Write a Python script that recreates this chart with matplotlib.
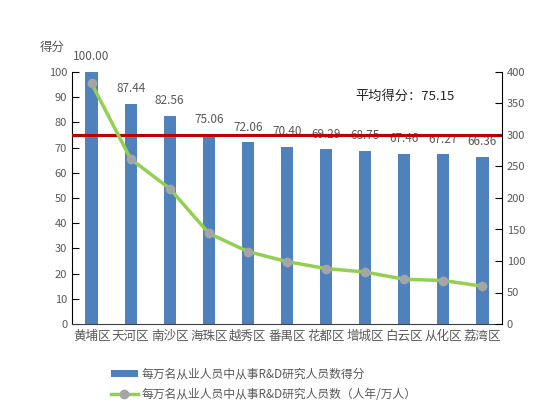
import matplotlib
matplotlib.use("Agg")
import matplotlib.pyplot as plt
from matplotlib.lines import Line2D
from matplotlib.patches import Patch

plt.rcParams['font.family'] = ['Noto Sans CJK SC', 'DejaVu Sans']

districts = ["黄埔区", "天河区", "南沙区", "海珠区", "越秀区", "番禺区", "花都区", "增城区", "白云区", "从化区", "荔湾区"]
scores = [100.00, 87.44, 82.56, 75.06, 72.06, 70.40, 69.29, 68.75, 67.46, 67.27, 66.36]
researchers = [382, 262, 215, 144, 115, 99, 88, 82.5, 71, 69, 60]
avg_score = 75.15
left_ticks = list(range(0, 101, 10))
right_ticks = list(range(0, 401, 50))
bar_label = "每万名从业人员中从事R&D研究人员数得分"
line_label = "每万名从业人员中从事R&D研究人员数（人年/万人）"

fig = plt.figure(figsize=(5.42, 4.19), dpi=100)
W, H = 542, 419
ax = fig.add_axes([72 / W, 1 - 324 / H, (502 - 72) / W, (324 - 72) / H])
x = list(range(len(districts)))
ax.bar(x, scores, width=0.31, color="#4F81BD", zorder=2)
ax.set_ylim(0, 100)
ax.set_xlim(-0.5, len(districts) - 0.5)
ax.set_yticks(left_ticks)
ax.set_xticks(x)
ax.set_xticklabels(districts)
tc = "#595959"
ax.tick_params(axis='y', direction='in', length=5, colors='black', labelcolor=tc, labelsize=8)
ax.tick_params(axis='x', length=0, labelcolor=tc, labelsize=9, pad=4)
ax.spines["top"].set_visible(False)
ax.spines["left"].set_color("black")
ax.spines["bottom"].set_color("#404040")
ax.spines["right"].set_visible(False)
for xi, v in zip(x, scores):
    ax.text(xi, v + 3.5, f"{v:.2f}", ha="center", va="bottom", fontsize=8.5, color=tc, zorder=1)
ax.axhline(avg_score, color="#C00000", lw=2.2, zorder=4)
ax.text(405 / W, 1 - 96 / H, f"平均得分：{avg_score:.2f}", transform=fig.transFigure,
        ha="center", va="center", fontsize=9.5, color="#262626")
ax.text(52 / W, 1 - 47 / H, "得分", transform=fig.transFigure, ha="center", va="center",
        fontsize=9, color=tc)

ax2 = ax.twinx()
ax2.plot(x, researchers, color="#92D050", lw=2.5, marker="o", markersize=6,
         markerfacecolor="#A5A5A5", markeredgecolor="#A5A5A5", zorder=5)
ax2.set_ylim(0, 400)
ax2.set_yticks(right_ticks)
ax2.tick_params(axis='y', direction='in', length=5, colors='black', labelcolor=tc, labelsize=8)
ax2.spines["top"].set_visible(False)
ax2.spines["left"].set_visible(False)
ax2.spines["bottom"].set_visible(False)
ax2.spines["right"].set_color("black")
ax2.set_zorder(ax.get_zorder() + 1)
ax2.patch.set_visible(False)

handles = [Patch(facecolor="#4F81BD", label=bar_label),
           Line2D([0], [0], color="#92D050", lw=2.5, marker="o", markersize=6,
                  markerfacecolor="#A5A5A5", markeredgecolor="#A5A5A5", label=line_label)]
fig.legend(handles=handles, loc="upper left", bbox_to_anchor=(100 / W, 1 - 357 / H),
           frameon=False, fontsize=8.5, labelcolor=tc, handlelength=2.3, handleheight=0.6,
           handletextpad=0.3, labelspacing=0.6)
fig.savefig("out.png", dpi=100)
